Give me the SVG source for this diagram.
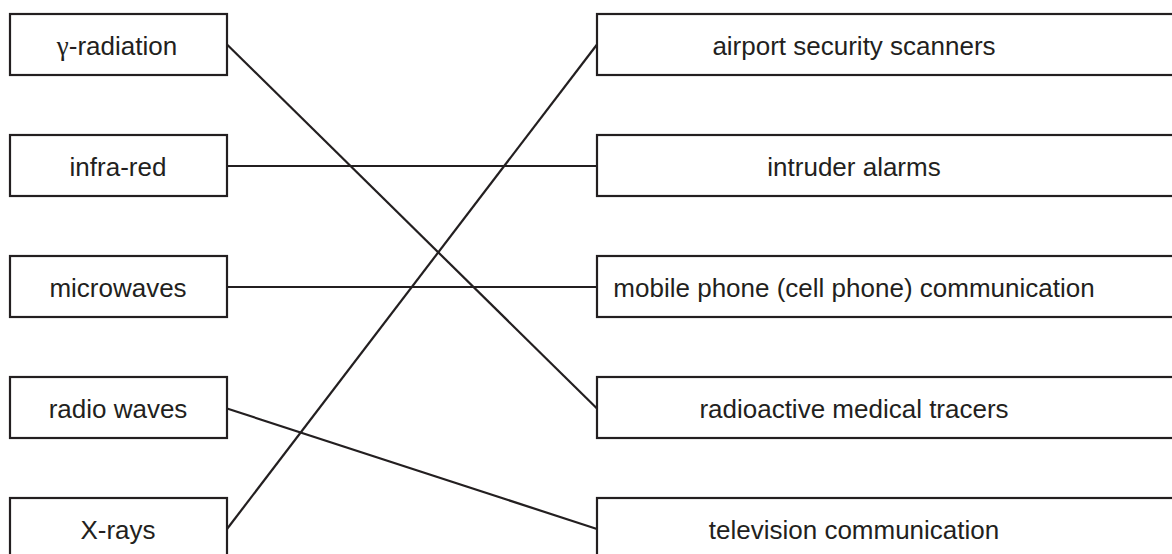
<svg xmlns="http://www.w3.org/2000/svg" width="1172" height="554" viewBox="0 0 1172 554">
  <style>
    .box { fill: #ffffff; stroke: #231f20; stroke-width: 2.2; }
    .lbl { font-family: "Liberation Sans", Arial, sans-serif; font-size: 26px; fill: #231f20; text-anchor: middle; }
    .greek { font-family: "Liberation Serif", "Times New Roman", serif; font-size: 27px; }
    .link { stroke: #231f20; stroke-width: 2.2; fill: none; }
  </style>
  <rect x="0" y="0" width="1172" height="554" fill="#ffffff"/>

  <!-- connectors -->
  <g id="connectors">
    <line class="link" x1="227" y1="44.5" x2="597" y2="408.5"/>
    <line class="link" x1="227" y1="166" x2="597" y2="166"/>
    <line class="link" x1="227" y1="287" x2="597" y2="287"/>
    <line class="link" x1="227" y1="408.5" x2="597" y2="529"/>
    <line class="link" x1="227" y1="529" x2="597" y2="44.5"/>
  </g>

  <!-- left column: radiation types -->
  <g id="gamma">
    <rect class="box" x="10" y="14" width="217" height="61"/>
    <text class="lbl" x="117" y="55"><tspan class="greek">γ</tspan>-radiation</text>
  </g>
  <g id="infrared">
    <rect class="box" x="10" y="135" width="217" height="61"/>
    <text class="lbl" x="118" y="176">infra-red</text>
  </g>
  <g id="microwaves">
    <rect class="box" x="10" y="256" width="217" height="61"/>
    <text class="lbl" x="118" y="297">microwaves</text>
  </g>
  <g id="radiowaves">
    <rect class="box" x="10" y="377" width="217" height="61"/>
    <text class="lbl" x="118" y="418">radio waves</text>
  </g>
  <g id="xrays">
    <rect class="box" x="10" y="498" width="217" height="70"/>
    <text class="lbl" x="118" y="539">X-rays</text>
  </g>

  <!-- right column: uses -->
  <g id="airport">
    <rect class="box" x="597" y="14" width="590" height="61"/>
    <text class="lbl" x="854" y="55">airport security scanners</text>
  </g>
  <g id="intruder">
    <rect class="box" x="597" y="135" width="590" height="61"/>
    <text class="lbl" x="854" y="176">intruder alarms</text>
  </g>
  <g id="mobile">
    <rect class="box" x="597" y="256" width="590" height="61"/>
    <text class="lbl" x="854" y="297">mobile phone (cell phone) communication</text>
  </g>
  <g id="tracers">
    <rect class="box" x="597" y="377" width="590" height="61"/>
    <text class="lbl" x="854" y="418">radioactive medical tracers</text>
  </g>
  <g id="television">
    <rect class="box" x="597" y="498" width="590" height="70"/>
    <text class="lbl" x="854" y="539">television communication</text>
  </g>
</svg>
